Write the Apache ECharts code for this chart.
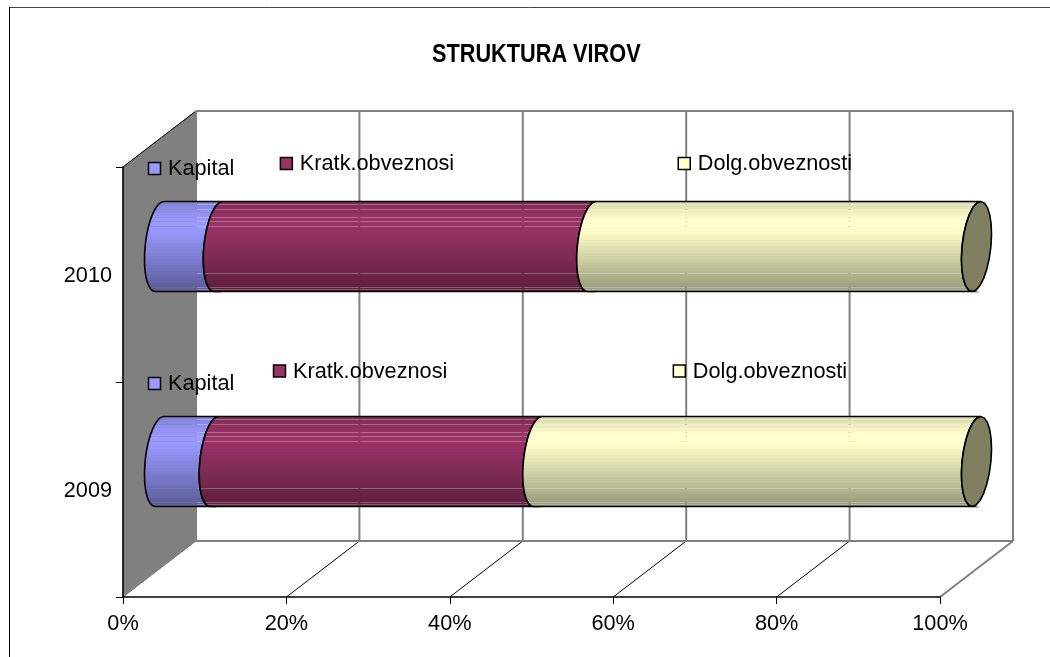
<!DOCTYPE html>
<html>
<head>
<meta charset="utf-8">
<style>
  html, body { margin: 0; padding: 0; background: #fff; }
  #main { width: 1050px; height: 657px; }
</style>
<script src="https://cdn.jsdelivr.net/npm/echarts@6/dist/echarts.min.js"></script>
</head>
<body>
<div id="main"></div>
<script>
// podatki
var years = ['2009', '2010']
var kapital = [6.7, 7.2]
var kratk = [39.6, 45.7]
var dolg = [53.7, 47.1]
var xTicks = [0, 20, 40, 60, 80, 100]

var FONT = '"Liberation Sans", Arial, sans-serif'
var DEPTH_X = 73
var DEPTH_Y = -56
var CYL_H = 90
var ELL_A = 14.4 // half width of the cap
var ELL_S = 4.3 // tilt of the cap

// top -> bottom brightness of the cylinder, one step = 3 rows
var BANDS = [0.86, 0.88, 0.9, 0.93, 0.96, 0.98, 1, 1, 1, 0.99, 0.98, 0.96, 0.94, 0.92, 0.9, 0.88, 0.86, 0.84, 0.82, 0.8, 0.78, 0.76, 0.74, 0.72, 0.7, 0.68, 0.66, 0.64, 0.62, 0.6]
// rows where the fill lets the background through
var THIN_ROWS = [3, 8, 16, 20, 25, 71, 85, 87]

function shade(hex, k, alpha) {
  var r = parseInt(hex.substr(1, 2), 16)
  var g = parseInt(hex.substr(3, 2), 16)
  var b = parseInt(hex.substr(5, 2), 16)
  return 'rgba(' + Math.round(r * k) + ',' + Math.round(g * k) + ',' + Math.round(b * k) + ',' + alpha + ')'
}

function bandFill(hex) {
  var stops = []
  for (var i = 0; i < CYL_H; i++) {
    var k = BANDS[Math.floor(i / 3)]
    var alpha = THIN_ROWS.indexOf(i) >= 0 ? 0.72 : 1
    stops.push({ offset: i / CYL_H, color: shade(hex, k, alpha) })
    stops.push({ offset: (i + 1) / CYL_H, color: shade(hex, k, alpha) })
  }
  return new echarts.graphic.LinearGradient(0, 0, 0, 1, stops)
}

// half (t0..t1) of the tilted cap around cx,cy
function arc(cx, cy, t0, t1) {
  var pts = []
  for (var i = 0; i <= 24; i++) {
    var t = t0 + (t1 - t0) * i / 24
    pts.push([
      cx + ELL_S * Math.sin(t) + ELL_A * Math.cos(t),
      cy - CYL_H / 2 * Math.sin(t)
    ])
  }
  return pts
}

function cylinderSeries(name, values, before, color, isLast) {
  return {
    name: name,
    type: 'custom',
    coordinateSystem: 'cartesian2d',
    z: 10,
    data: years.map(function(y, i) {
      return [before[i], i, before[i] + values[i]]
    }),
    silent: true,
    renderItem: function(params, api) {
      var a = api.coord([api.value(0), api.value(1)])
      var b = api.coord([api.value(2), api.value(1)])
      var cx0 = a[0] + DEPTH_X / 2
      var cx1 = b[0] + DEPTH_X / 2
      var cy = a[1] + DEPTH_Y / 2
      // left edge top -> bottom, then back along the next segment's edge
      var pts = arc(cx0, cy, Math.PI / 2, Math.PI * 1.5)
        .concat(arc(cx1, cy, Math.PI * 1.5, Math.PI / 2))
      var children = [{
        type: 'polygon',
        shape: { points: pts },
        style: { fill: bandFill(color), stroke: '#000', lineWidth: 1.6 }
      }]
      if (isLast) {
        children.push({
          type: 'polygon',
          shape: { points: arc(cx1, cy, 0, Math.PI * 2) },
          style: { fill: '#808060', stroke: '#000', lineWidth: 1.6 }
        })
      }
      return { type: 'group', children: children }
    }
  }
}

// zadnja stena, tla, siva stranska stena
var wallSeries = {
  type: 'custom',
  coordinateSystem: 'cartesian2d',
  z: 1,
  silent: true,
  data: [[0]],
  renderItem: function(params, api) {
    var top = api.coord([0, 1])[1] - api.size([0, 1])[1] / 2
    var bottom = api.coord([0, 0])[1] + api.size([0, 1])[1] / 2
    var left = api.coord([0, 0])[0]
    var children = [{
      type: 'polygon',
      shape: { points: [[left, top], [left + DEPTH_X, top + DEPTH_Y], [left + DEPTH_X, bottom + DEPTH_Y], [left, bottom]] },
      style: { fill: '#808080', stroke: '#808080', lineWidth: 1 }
    }, {
      type: 'line',
      shape: { x1: left, y1: top, x2: left + DEPTH_X, y2: top + DEPTH_Y },
      style: { stroke: '#000', lineWidth: 1 }
    }]
    xTicks.forEach(function(v) {
      var x = api.coord([v, 0])[0]
      children.push({
        type: 'line',
        shape: { x1: x + DEPTH_X, y1: top + DEPTH_Y, x2: x + DEPTH_X, y2: bottom + DEPTH_Y },
        style: { stroke: '#808080', lineWidth: 2 }
      })
      if (v > 0) {
        children.push({
          type: 'line',
          shape: { x1: x, y1: bottom, x2: x + DEPTH_X, y2: bottom + DEPTH_Y },
          style: { stroke: v === 100 ? '#808080' : '#000', lineWidth: v === 100 ? 2 : 1 }
        })
      }
    })
    children.push({
      type: 'line',
      shape: { x1: left + DEPTH_X, y1: top + DEPTH_Y, x2: api.coord([100, 0])[0] + DEPTH_X, y2: top + DEPTH_Y },
      style: { stroke: '#808080', lineWidth: 2 }
    })
    children.push({
      type: 'line',
      shape: { x1: left + DEPTH_X, y1: bottom + DEPTH_Y, x2: api.coord([100, 0])[0] + DEPTH_X, y2: bottom + DEPTH_Y },
      style: { stroke: '#808080', lineWidth: 2 }
    })
    return { type: 'group', children: children }
  }
}

// oznake: ime serije + kvadratek, premaknjene rocno kot v originalu
var labelSpots = [
  { name: 'Kapital', color: '#9999ff', cat: 1, at: 3.06, dy: -106 },
  { name: 'Kratk.obveznosi', color: '#993366', cat: 1, at: 19.2, dy: -111 },
  { name: 'Dolg.obveznosti', color: '#ffffcc', cat: 1, at: 67.9, dy: -111 },
  { name: 'Kapital', color: '#9999ff', cat: 0, at: 3.06, dy: -106 },
  { name: 'Kratk.obveznosi', color: '#993366', cat: 0, at: 18.36, dy: -118.5 },
  { name: 'Dolg.obveznosti', color: '#ffffcc', cat: 0, at: 67.3, dy: -118.5 }
]

var labelSeries = {
  type: 'custom',
  coordinateSystem: 'cartesian2d',
  z: 20,
  silent: true,
  data: labelSpots.map(function(s) { return [s.at, s.cat] }),
  renderItem: function(params, api) {
    var s = labelSpots[params.dataIndex]
    var p = api.coord([s.at, s.cat])
    var y = p[1] + s.dy
    return {
      type: 'group',
      children: [{
        type: 'rect',
        shape: { x: p[0] + 0.5, y: y - 6, width: 12, height: 12 },
        style: { fill: s.color, stroke: '#000', lineWidth: 1.5 }
      }, {
        type: 'text',
        x: p[0] + 20,
        y: y + 1,
        style: {
          text: s.name,
          font: '21.7px ' + FONT,
          fill: '#000',
          verticalAlign: 'middle',
          align: 'left'
        }
      }]
    }
  }
}

var before2 = kapital.map(function(v, i) { return v + kratk[i] })

let myChart = echarts.init(document.getElementById('main'), null, { renderer: 'canvas' })
let option = {
  animation: false,
  backgroundColor: '#fff',
  grid: { left: 123, right: 110, top: 167, bottom: 60, containLabel: false },
  xAxis: {
    type: 'value',
    min: 0,
    max: 100,
    interval: 20,
    z: 5,
    splitLine: { show: false },
    axisLine: { show: true, lineStyle: { color: '#000', width: 1.5 } },
    axisTick: { show: true, length: 7, lineStyle: { color: '#000', width: 1 } },
    axisLabel: {
      formatter: '{value}%',
      margin: 16,
      color: '#000',
      fontSize: 21.7,
      fontFamily: FONT,
      showMinLabel: true,
      showMaxLabel: true
    }
  },
  yAxis: {
    type: 'category',
    data: years,
    z: 5,
    axisLine: { show: true, lineStyle: { color: '#000', width: 1.5 } },
    axisTick: { show: true, length: 7, alignWithLabel: false, lineStyle: { color: '#000', width: 1 } },
    axisLabel: {
      margin: 11,
      formatter: '{y|{value}}',
      rich: { y: { padding: [4, 0, 0, 0], color: '#000', fontSize: 21.7, fontFamily: FONT } }
    }
  },
  graphic: [
    // okvir: samo zgoraj in levo
    { type: 'line', shape: { x1: 9, y1: 7.5, x2: 1050, y2: 7.5 }, style: { stroke: '#444', lineWidth: 1 } },
    { type: 'line', shape: { x1: 9.5, y1: 7, x2: 9.5, y2: 657 }, style: { stroke: '#000', lineWidth: 1 } },
    {
      type: 'text',
      x: 432,
      y: 55,
      scaleX: 0.835,
      style: {
        text: 'STRUKTURA VIROV',
        font: 'bold 26px ' + FONT,
        fill: '#000',
        verticalAlign: 'middle'
      }
    }
  ],
  series: [
    wallSeries,
    cylinderSeries('Kapital', kapital, [0, 0], '#9999ff', false),
    cylinderSeries('Kratk.obveznosi', kratk, kapital, '#993366', false),
    cylinderSeries('Dolg.obveznosti', dolg, before2, '#ffffcc', true),
    labelSeries
  ]
}
myChart.setOption(option)
</script>
</body>
</html>
